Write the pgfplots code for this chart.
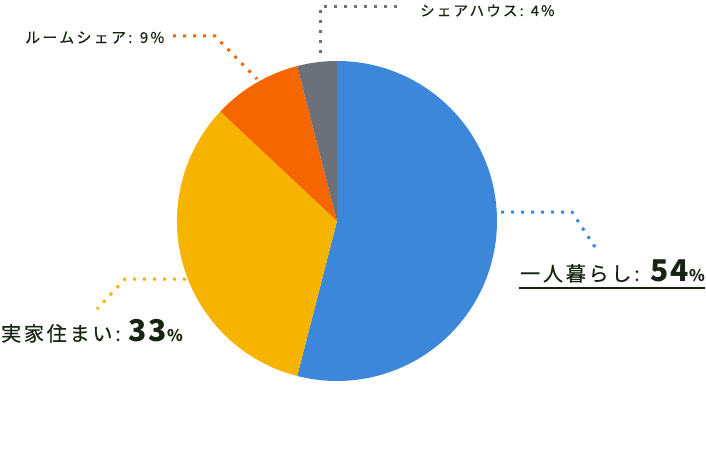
\documentclass[border=0pt]{standalone}
\usepackage{pgfplots}
\pgfplotsset{compat=1.18}
\usepackage{fontspec}
\newfontfamily\jp[LetterSpace=14,FakeBold=0.6]{Noto Sans CJK JP}
\newfontfamily\jps[LetterSpace=15,FakeBold=0.6]{Noto Sans CJK JP}
\newfontfamily\jpn[LetterSpace=6]{Noto Sans CJK JP}
\definecolor{pieblue}{RGB}{61,135,218}
\definecolor{pieyellow}{RGB}{246,180,0}
\definecolor{pieorange}{RGB}{246,102,0}
\definecolor{piegray}{RGB}{108,112,120}
\definecolor{txt}{RGB}{22,36,18}
% shares (percent)
\def\vA{54}\def\vB{33}\def\vC{9}\def\vD{4}
\begin{document}
\begin{tikzpicture}
\pgfmathsetmacro\aA{90}
\pgfmathsetmacro\aB{90-\vA*3.6}
\pgfmathsetmacro\aC{\aB-\vB*3.6}
\pgfmathsetmacro\aD{\aC-\vC*3.6}
\pgfmathsetmacro\aE{\aD-\vD*3.6}
\begin{axis}[
  at={(0,0)}, anchor=south west,
  width=706pt, height=448pt, scale only axis,
  xmin=0, xmax=706, ymin=0, ymax=448,
  hide axis, clip=false,
]
\fill[pieblue]   (axis cs:337,227) -- +(\aA:160pt) arc[start angle=\aA, end angle=\aB, radius=160pt] -- cycle;
\fill[pieyellow] (axis cs:337,227) -- +(\aB:160pt) arc[start angle=\aB, end angle=\aC, radius=160pt] -- cycle;
\fill[pieorange] (axis cs:337,227) -- +(\aC:160pt) arc[start angle=\aC, end angle=\aD, radius=160pt] -- cycle;
\fill[piegray]   (axis cs:337,227) -- +(\aD:160pt) arc[start angle=\aD, end angle=\aE, radius=160pt] -- cycle;
% leader lines
\addplot[pieblue, line width=3pt, dash pattern=on 3pt off 7pt] coordinates {(501,236) (572,236) (595,201)};
\addplot[pieyellow, line width=3pt, dash pattern=on 3pt off 7pt] coordinates {(186,169) (125,169) (97,139)};
\addplot[pieorange, line width=3pt, dash pattern=on 3pt off 7pt] coordinates {(173,412) (215,412) (257,369)};
\addplot[piegray, line width=3pt, dash pattern=on 3pt off 7pt] coordinates {(320,395) (320,441) (403,441)};
% labels
\node[anchor=base west, inner sep=0pt, text=txt] at (axis cs:520,167)
  {{\jp\fontsize{20}{20}\selectfont 一人暮らし:}\hspace{11pt}{\jpn\bfseries\fontsize{30}{30}\selectfont 54}{\jpn\bfseries\fontsize{16}{16}\selectfont\%}};
\draw[txt, line width=2pt] (axis cs:519,160) -- (axis cs:705,160);
\node[anchor=base west, inner sep=0pt, text=txt] at (axis cs:1,107)
  {{\jp\fontsize{20}{20}\selectfont 実家住まい:}\hspace{8pt}{\jpn\bfseries\fontsize{30}{30}\selectfont 33}{\jpn\bfseries\fontsize{16}{16}\selectfont\%}};
\node[anchor=base west, inner sep=0pt, text=txt] at (axis cs:25,405)
  {{\jps\fontsize{15}{15}\selectfont ルームシェア: 9\%}};
\node[anchor=base west, inner sep=0pt, text=txt] at (axis cs:420,432)
  {{\jps\fontsize{14.5}{14.5}\selectfont シェアハウス: 4\%}};
\end{axis}
\pgfresetboundingbox
\useasboundingbox (0,0) rectangle (706pt,448pt);
\end{tikzpicture}
\end{document}
